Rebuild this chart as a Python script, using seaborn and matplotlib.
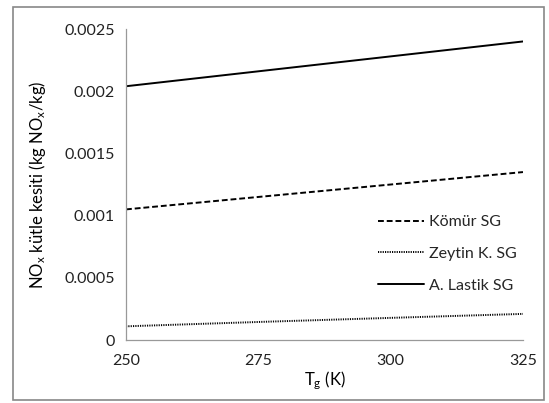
import matplotlib
matplotlib.use("Agg")
import matplotlib.pyplot as plt
import seaborn as sns
import pandas as pd
from matplotlib.patches import Rectangle

T_g = [250, 275, 300, 325]
komur = [0.00105, 0.00115, 0.00125, 0.00135]
zeytin = [0.00011, 0.000145, 0.000178, 0.00021]
lastik = [0.00204, 0.00216, 0.00228, 0.00240]
series_names = ["Kömür SG", "Zeytin K. SG", "A. Lastik SG"]
x_ticks = [250, 275, 300, 325]
y_ticks = [0, 0.0005, 0.001, 0.0015, 0.002, 0.0025]
y_tick_labels = ["0", "0.0005", "0.001", "0.0015", "0.002", "0.0025"]

sns.set_theme(style="white")
plt.rcParams['font.family'] = ['Lato', 'DejaVu Sans']
plt.rcParams['mathtext.default'] = 'regular'

fig = plt.figure(figsize=(5.49, 4.03), dpi=100)
ax = fig.add_axes([0.2295, 0.1563, 0.7231, 0.7717])

styles = [(0, (3.0, 1.5)), (0, (0.6, 0.6)), '-']
for name, vals, ls in zip(series_names, [komur, zeytin, lastik], styles):
    df = pd.DataFrame({"T": T_g, "v": vals})
    sns.lineplot(data=df, x="T", y="v", ax=ax, color="black", linewidth=1.4,
                 linestyle=ls, label=name)

ax.set_xlim(250, 325)
ax.set_ylim(0, 0.0025)
ax.set_xticks(x_ticks)
ax.set_xticklabels([str(t) for t in x_ticks])
ax.set_yticks(y_ticks)
ax.set_yticklabels(y_tick_labels)
ax.tick_params(axis='both', labelsize=11.5, colors='#222222', direction='out',
               length=4, width=0.8, color='#999999', pad=6)
ax.tick_params(axis='y', pad=4)
for s in ['top', 'right']:
    ax.spines[s].set_visible(False)
for s in ['left', 'bottom']:
    ax.spines[s].set_color('#999999')
    ax.spines[s].set_linewidth(0.9)
ax.set_xlabel("T$_g$ (K)", fontsize=12, color='black', labelpad=1)
ax.set_ylabel("NO$_x$ kütle kesiti (kg NO$_x$/kg)", fontsize=12, color='black', labelpad=12)

leg = ax.legend(loc='center left', bbox_to_anchor=(0.635, 0.277), frameon=False,
                fontsize=11.5, handlelength=2.9, handletextpad=0.3, labelspacing=1.1,
                borderaxespad=0, borderpad=0)

fig.patches.append(Rectangle((13/549, 1-400/403), (544-13)/549, (400-7)/403,
                             transform=fig.transFigure, fill=False,
                             edgecolor='#888888', linewidth=1.2))

fig.savefig("out.png", dpi=100)
